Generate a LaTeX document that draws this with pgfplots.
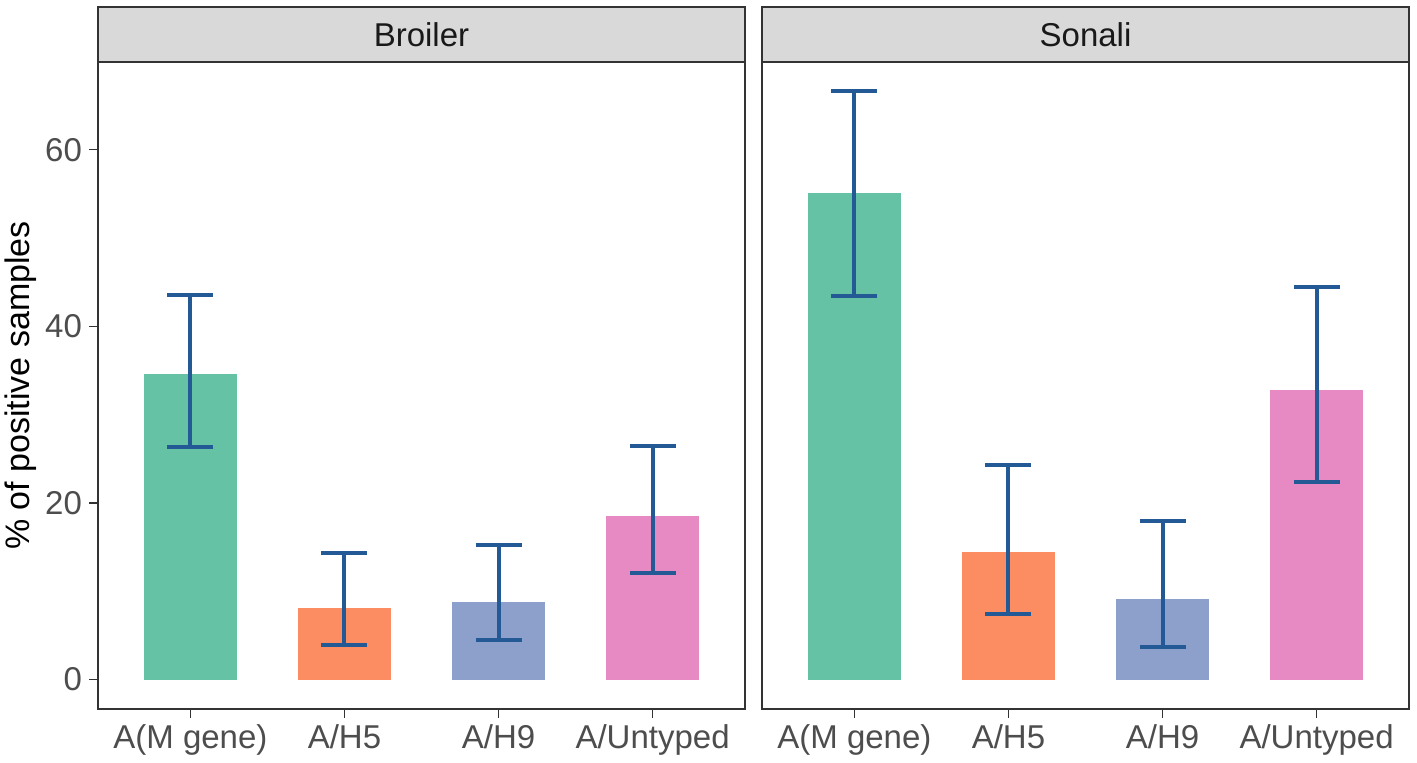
\documentclass[border=0pt]{standalone}
\usepackage{fontspec}
\setmainfont{Liberation Sans}
\usepackage{pgfplots}
\pgfplotsset{compat=1.18}
\definecolor{c1}{HTML}{66C2A5}
\definecolor{c2}{HTML}{FC8D62}
\definecolor{c3}{HTML}{8DA0CB}
\definecolor{c4}{HTML}{E78AC3}
\definecolor{errc}{HTML}{235A96}
\definecolor{gray20}{HTML}{333333}
\definecolor{gray30}{HTML}{4D4D4D}
\definecolor{gray85}{HTML}{D9D9D9}
\pgfplotsset{
  panel/.style={
    scale only axis, width=323.5pt, height=323.5pt, anchor=south west,
    xmin=0.4, xmax=4.6, ymin=-3.33, ymax=69.93,
    xtick={1,2,3,4}, xticklabels={A(M gene),A/H5,A/H9,A/Untyped},
    ytick={0,20,40,60},
    tick align=outside, major tick length=4.5pt,
    tick style={gray20, line width=0.75pt},
    axis line style={gray20, line width=0.75pt},
    ticklabel style={font=\fontsize{16.5}{19}\selectfont, text=gray30},
    /pgf/number format/assume math mode=true,
    xtick pos=bottom, ytick pos=left,
    clip=false,
  },
  errbar/.style={
    ybar, bar width=0.6, bar shift=0pt, draw=none, fill=#1,
    error bars/.cd, y dir=both, y explicit,
    error bar style={draw=errc, line width=2pt},
    error mark options={draw=errc, line width=2pt, mark size=11.5pt, rotate=90},
  },
}
\newcommand{\strip}[1]{%
  \draw[gray20, line width=0.75pt, fill=gray85] (rel axis cs:0,1) rectangle ([yshift=27.5pt]rel axis cs:1,1);
  \node[font=\fontsize{16.5}{19}\selectfont, text=black!90] at ([yshift=13.75pt]rel axis cs:0.5,1) {#1};
}
\begin{document}
\begin{tikzpicture}
\useasboundingbox (0,0) rectangle (708.5pt,381.5pt);
\begin{axis}[panel, at={(49pt,27pt)},
  ylabel={\% of positive samples},
  ylabel style={font=\fontsize{17}{20}\selectfont, text=black, at={([xshift=-38.5pt]rel axis cs:0,0.5)}, anchor=center}]
\addplot[errbar=c1] coordinates {(1,34.6) += (0,9.0) -= (0,8.3)};
\addplot[errbar=c2] coordinates {(2,8.1) += (0,6.2) -= (0,4.15)};
\addplot[errbar=c3] coordinates {(3,8.8) += (0,6.45) -= (0,4.3)};
\addplot[errbar=c4] coordinates {(4,18.5) += (0,7.9) -= (0,6.4)};
\strip{Broiler}
\end{axis}
\begin{axis}[panel, at={(381pt,27pt)}, yticklabels={}, ytick style={draw=none}]
\addplot[errbar=c1] coordinates {(1,55.1) += (0,11.5) -= (0,11.7)};
\addplot[errbar=c2] coordinates {(2,14.4) += (0,9.95) -= (0,7.0)};
\addplot[errbar=c3] coordinates {(3,9.1) += (0,8.9) -= (0,5.4)};
\addplot[errbar=c4] coordinates {(4,32.8) += (0,11.7) -= (0,10.4)};
\strip{Sonali}
\end{axis}
\end{tikzpicture}
\end{document}
